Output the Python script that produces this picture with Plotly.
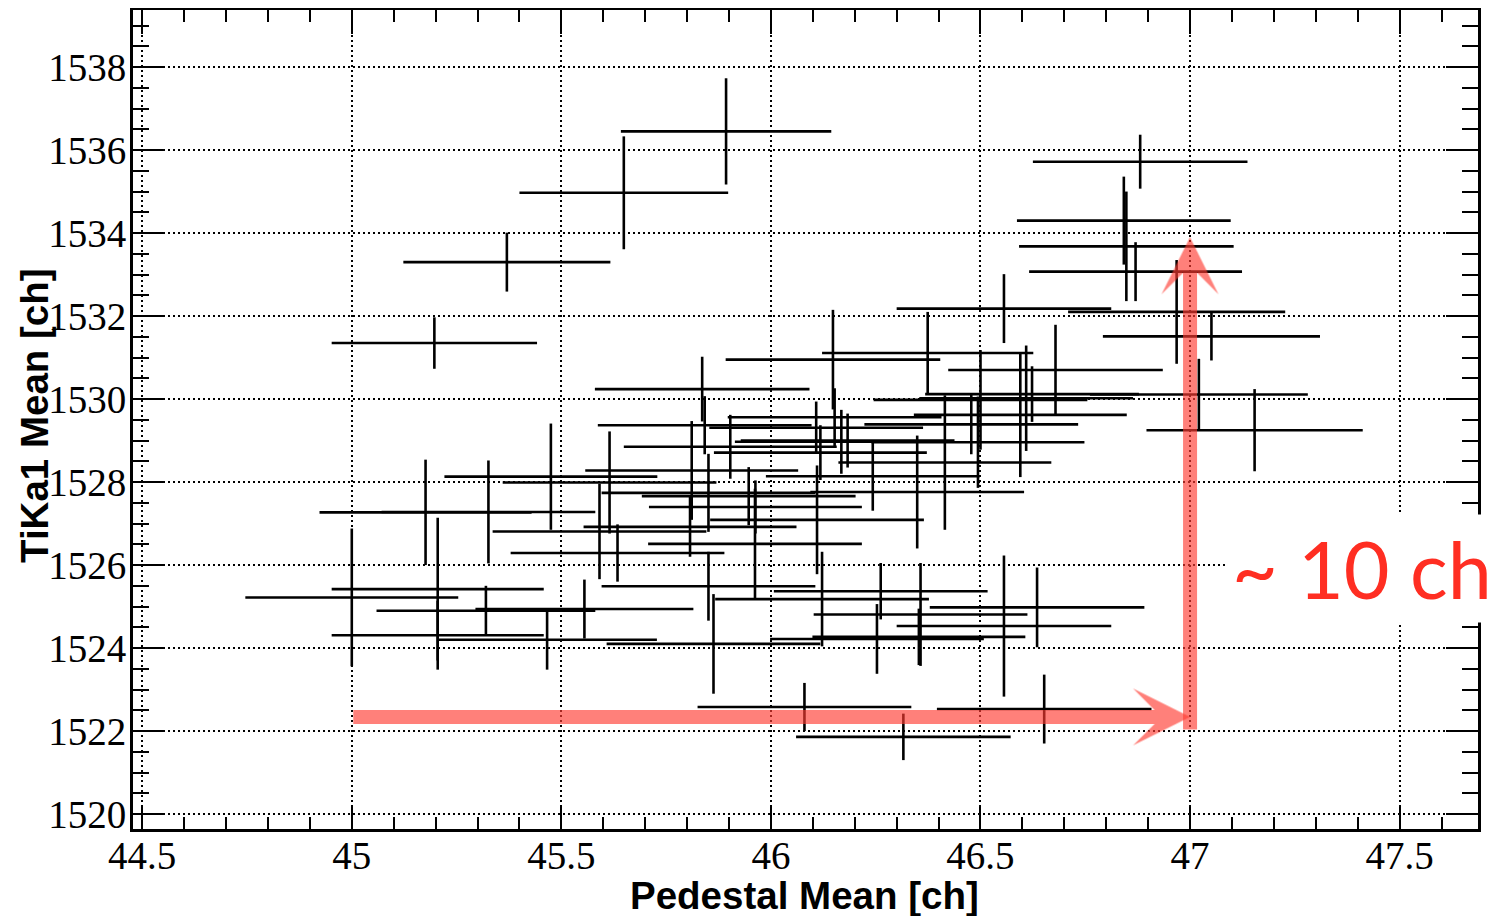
import plotly.graph_objects as go

# ---------------- data ----------------
pedestal_mean = [45.893, 45.649, 45.370, 45.197, 46.881, 46.842, 46.848, 46.870, 46.556, 46.968,
                 47.051, 47.154, 47.021, 46.374, 46.623, 46.679, 46.595, 46.609, 46.500, 46.494,
                 46.478, 46.415, 46.349, 46.243, 46.262, 46.357, 46.353, 46.253, 46.556, 46.635,
                 45.836, 45.842, 45.903, 45.851, 45.947, 45.963, 45.962, 45.851, 45.863, 45.811,
                 46.108, 46.118, 46.110, 46.122, 46.148, 46.152, 46.168, 46.183, 45.475, 45.615,
                 45.591, 45.634, 45.807, 45.555, 45.466, 45.176, 45.326, 45.000, 45.205, 45.205,
                 45.320, 46.080, 46.316, 46.652]

pedestal_err = [0.251, 0.249, 0.247, 0.245, 0.256, 0.255, 0.256, 0.254, 0.256, 0.259,
                0.259, 0.258, 0.260, 0.252, 0.255, 0.256, 0.254, 0.255, 0.255, 0.254,
                0.255, 0.254, 0.255, 0.255, 0.255, 0.255, 0.254, 0.255, 0.256, 0.256,
                0.256, 0.255, 0.254, 0.255, 0.255, 0.254, 0.255, 0.255, 0.255, 0.254,
                0.255, 0.254, 0.255, 0.255, 0.256, 0.255, 0.254, 0.255, 0.254, 0.255,
                0.255, 0.255, 0.254, 0.260, 0.262, 0.253, 0.255, 0.254, 0.253, 0.253,
                0.261, 0.255, 0.256, 0.256]

tika1_mean = [1536.45, 1534.97, 1533.30, 1531.35, 1535.72, 1534.30, 1533.68, 1533.07, 1532.18, 1532.10,
              1531.51, 1529.25, 1530.11, 1531.11, 1530.12, 1530.70, 1529.62, 1530.02, 1529.98, 1528.96,
              1529.39, 1528.47, 1527.76, 1528.14, 1525.37, 1524.81, 1524.27, 1524.22, 1524.53, 1524.98,
              1530.24, 1529.37, 1528.85, 1527.74, 1527.66, 1527.40, 1526.51, 1525.49, 1524.10, 1528.28,
              1529.31, 1528.71, 1527.09, 1525.18, 1530.95, 1529.56, 1528.97, 1529.00, 1528.13, 1527.99,
              1526.81, 1526.29, 1526.92, 1524.94, 1524.20, 1527.27, 1527.28, 1525.22, 1525.42, 1524.31,
              1524.90, 1522.58, 1521.86, 1522.53]

tika1_err = [1.28, 1.36, 0.71, 0.62, 0.65, 1.06, 1.32, 0.71, 0.83, 1.25,
             0.58, 0.99, 0.86, 0.99, 0.67, 1.09, 1.50, 1.27, 1.20, 1.10,
             0.72, 1.62, 1.36, 0.83, 0.68, 1.24, 0.68, 0.84, 1.70, 0.96,
             0.78, 0.70, 0.77, 0.94, 0.70, 0.64, 1.33, 0.83, 1.20, 1.19,
             0.63, 0.66, 1.31, 1.14, 1.20, 0.70, 0.77, 0.65, 1.28, 1.23,
             1.15, 0.69, 0.72, 0.71, 0.72, 1.27, 1.24, 1.66, 1.72, 0.83,
             0.60, 0.58, 0.56, 0.83]

x_title = "Pedestal Mean [ch]"
y_title = "TiKa1 Mean [ch]"
note_text = "~ 10 ch"

# arrow annotation anchor values (data units)
h_arrow_start, h_arrow_end, h_arrow_y = 45.0, 47.0, 1522.34
v_arrow_x, v_arrow_start, v_arrow_end = 47.0, 1522.0, 1533.9

# ---------------- figure ----------------
fig = go.Figure()
fig.add_trace(go.Scatter(
    x=pedestal_mean, y=tika1_mean, mode="markers",
    marker=dict(size=2, color="black"),
    error_x=dict(type="data", array=pedestal_err, width=0, thickness=2.6, color="black"),
    error_y=dict(type="data", array=tika1_err, width=0, thickness=2.6, color="black"),
    showlegend=False, hoverinfo="x+y",
))

arrow_color = "rgba(255,60,50,0.65)"
fig.add_annotation(x=h_arrow_end, y=h_arrow_y, ax=h_arrow_start, ay=h_arrow_y,
                   xref="x", yref="y", axref="x", ayref="y", text="",
                   showarrow=True, arrowhead=3, arrowwidth=14, arrowsize=0.68,
                   arrowcolor=arrow_color, standoff=0, startstandoff=0)
fig.add_annotation(x=v_arrow_x, y=v_arrow_end, ax=v_arrow_x, ay=v_arrow_start,
                   xref="x", yref="y", axref="x", ayref="y", text="",
                   showarrow=True, arrowhead=3, arrowwidth=14, arrowsize=0.68,
                   arrowcolor=arrow_color, standoff=0, startstandoff=0)

fig.add_annotation(x=0.812, y=0.318, xref="paper", yref="paper",
                   xanchor="left", yanchor="middle", text=note_text, showarrow=False,
                   font=dict(family="Lato", size=79, color="#FF2E22"),
                   bgcolor="white", borderpad=6)

fig.add_annotation(x=0.4996, y=-0.081, xref="paper", yref="paper",
                   xanchor="center", yanchor="middle", text="<b>" + x_title + "</b>",
                   showarrow=False,
                   font=dict(family="Liberation Sans", size=38.5, color="black"))
fig.add_annotation(x=-0.0729, y=0.5055, xref="paper", yref="paper",
                   xanchor="center", yanchor="middle", text="<b>" + y_title + "</b>",
                   textangle=-90, showarrow=False,
                   font=dict(family="Liberation Sans", size=38.5, color="black"))

tickfont = dict(family="Liberation Serif", size=39, color="black")
fig.update_xaxes(
    range=[44.478, 47.687], tick0=44.5, dtick=0.5,
    ticks="inside", ticklen=24, tickwidth=2, tickcolor="black",
    showline=True, linewidth=3, linecolor="black", mirror="allticks",
    showgrid=True, gridcolor="black", gridwidth=2, griddash="2px,3px",
    zeroline=False, tickfont=tickfont, automargin=False, ticklabelstandoff=-10,
    minor=dict(dtick=0.1, tick0=44.5, ticks="inside", ticklen=12, tickwidth=2,
               tickcolor="black", showgrid=False),
)
fig.update_yaxes(
    range=[1519.64, 1539.375], tick0=1520, dtick=2,
    ticks="inside", ticklen=32, tickwidth=2, tickcolor="black",
    showline=True, linewidth=3, linecolor="black", mirror="allticks",
    showgrid=True, gridcolor="black", gridwidth=2, griddash="2px,3px",
    zeroline=False, tickfont=tickfont, automargin=False, ticklabelstandoff=-4,
    minor=dict(dtick=0.5, tick0=1520, ticks="inside", ticklen=16, tickwidth=2,
               tickcolor="black", showgrid=False),
)

# the page body adds an 8 px offset, so the figure is 8 px smaller and the
# left/top margins 8 px narrower to keep the plot frame where the reference has it
fig.update_layout(
    width=1494, height=908,
    margin=dict(l=125, r=24, t=2, b=87),
    paper_bgcolor="white", plot_bgcolor="white",
)

fig.write_html("out.html")
